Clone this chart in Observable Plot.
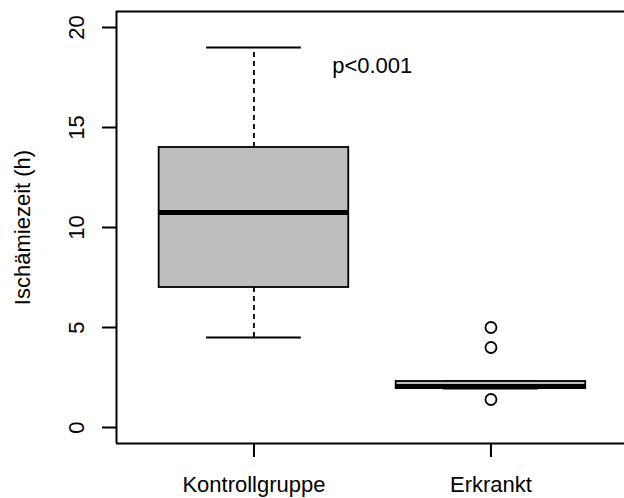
<!DOCTYPE html>
<html>
<head>
<meta charset="utf-8">
<script src="https://cdn.jsdelivr.net/npm/d3@7"></script>
<script src="https://cdn.jsdelivr.net/npm/@observablehq/plot@0.6"></script>
<style>
  html, body { margin: 0; padding: 0; background: #fff; overflow: hidden; }
  svg { overflow: hidden; display: block; }
</style>
</head>
<body>
<div id="chart"></div>
<script>
// Ischemia time by group, boxplot summary
const groups = ["Kontrollgruppe", "Erkrankt"];
const lowerWhisker = [4.5, 1.95];
const q1 = [7, 1.95];
const median = [10.75, 2.05];
const q3 = [14, 2.3];
const upperWhisker = [19, 2.3];

const outlierGroup = [2, 2, 2];
const outlierValue = [5, 4, 1.4];

const yTicks = [0, 5, 10, 15, 20];
const yLabel = "Ischämiezeit (h)";
const pText = "p<0.001";

const boxes = groups.map((g, i) => ({
  pos: i + 1, lo: lowerWhisker[i], q1: q1[i], med: median[i], q3: q3[i], hi: upperWhisker[i]
}));
const outliers = outlierValue.map((v, i) => ({pos: outlierGroup[i], value: v}));

const boxHalf = 0.4, capHalf = 0.2;
const xMin = 0.42, xMax = 2.58, yMin = -0.8, yMax = 20.8;
const lw = 1.8;

const chart = Plot.plot({
  width: 624,
  height: 498,
  marginLeft: 116,
  marginRight: 0,
  marginTop: 11,
  marginBottom: 55,
  style: {fontFamily: "'Liberation Sans', Arial, sans-serif", fontSize: "22px", color: "#000", background: "#fff"},
  x: {type: "linear", domain: [xMin, xMin + 508 / 237], axis: null},
  y: {domain: [yMin, yMax], axis: null},
  marks: [
    // frame (right edge lies outside the drawing)
    Plot.ruleX([xMin], {y1: yMin, y2: yMax, stroke: "#000", strokeWidth: 2}),
    Plot.ruleY([yMin, yMax], {x1: xMin, x2: xMax, stroke: "#000", strokeWidth: 2}),
    // axes
    Plot.axisY({ticks: yTicks, tickSize: 14, tickPadding: 19, tickRotate: -90, label: null,
      fontSize: 22, stroke: "#000", strokeWidth: 2, fill: "#000"}),
    Plot.axisX({ticks: [1, 2], tickFormat: d => groups[d - 1], tickSize: 14, tickPadding: 19, label: null,
      fontSize: 22, stroke: "#000", strokeWidth: 2, fill: "#000"}),
    Plot.text([yLabel], {frameAnchor: "left", y: () => (yMin + yMax) / 2, dx: -87, rotate: -90,
      lineAnchor: "bottom", textAnchor: "middle", fontSize: 22, fill: "#000"}),
    // whiskers
    Plot.ruleX(boxes, {x: "pos", y1: "q3", y2: "hi", stroke: "#000", strokeWidth: lw, strokeDasharray: "5,4"}),
    Plot.ruleX(boxes, {x: "pos", y1: "lo", y2: "q1", stroke: "#000", strokeWidth: lw, strokeDasharray: "5,4"}),
    Plot.ruleY(boxes, {y: "hi", x1: d => d.pos - capHalf, x2: d => d.pos + capHalf, stroke: "#000", strokeWidth: lw}),
    Plot.ruleY(boxes, {y: "lo", x1: d => d.pos - capHalf, x2: d => d.pos + capHalf, stroke: "#000", strokeWidth: lw}),
    // boxes
    Plot.rect(boxes, {x1: d => d.pos - boxHalf, x2: d => d.pos + boxHalf, y1: "q1", y2: "q3",
      fill: "#bebebe", stroke: "#000", strokeWidth: lw}),
    Plot.ruleY(boxes, {y: "med", x1: d => d.pos - boxHalf, x2: d => d.pos + boxHalf, stroke: "#000", strokeWidth: 5}),
    // outliers
    Plot.dot(outliers, {x: "pos", y: "value", r: 5.5, stroke: "#000", strokeWidth: lw, fill: "none"}),
    // test result
    Plot.text([pText], {x: () => 1.33, y: () => 17.75, textAnchor: "start", lineAnchor: "bottom", fontSize: 22, fill: "#000"})
  ]
});
document.getElementById("chart").appendChild(chart);
</script>
</body>
</html>
